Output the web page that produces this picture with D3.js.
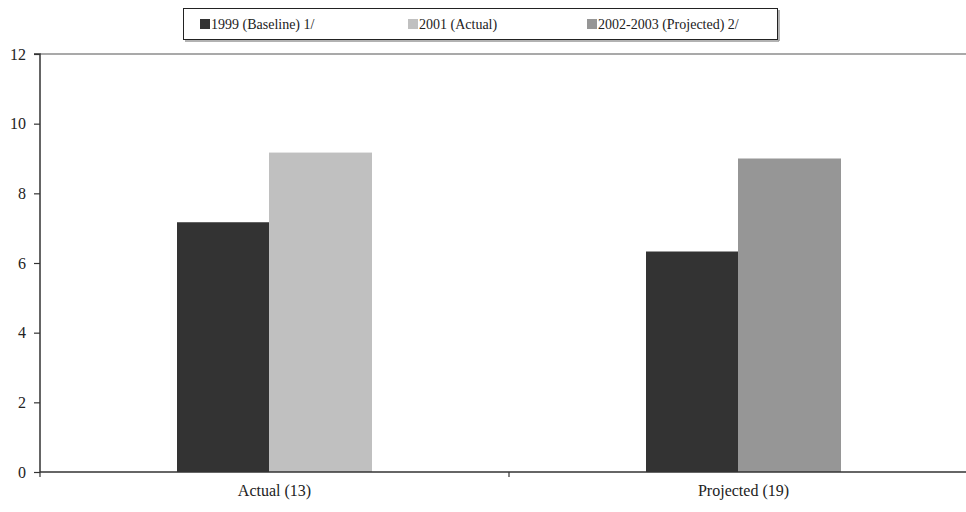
<!DOCTYPE html>
<html>
<head>
<meta charset="utf-8">
<script src="https://cdn.jsdelivr.net/npm/d3@7"></script>
<style>
  html, body { margin: 0; padding: 0; background: #fff; }
  svg { display: block; }
  svg text { font-family: "Liberation Serif", "Times New Roman", Times, serif; }
</style>
</head>
<body>
<svg id="chart" width="966" height="512"></svg>
<script>
// Categories and series
const categories = ["Actual (13)", "Projected (19)"];
const seriesNames = ["1999 (Baseline) 1/", "2001 (Actual)", "2002-2003 (Projected) 2/"];
const seriesColors = ["#333333", "#c0c0c0", "#969696"];
// Values per category: baseline bar, then the follow-up bar (series differs by group)
const baselineValues = [7.17, 6.33];
const followValues = [9.17, 9.0];
const followSeries = [1, 2];
const yTicks = [0, 2, 4, 6, 8, 10, 12];

const FONT = "'Liberation Serif', 'Times New Roman', Times, serif";
const svg = d3.select("#chart");
const margin = { left: 40, top: 54, bottom: 472, right: 978 };

const y = d3.scaleLinear().domain([0, 12]).range([margin.bottom, margin.top]);
const x = d3.scaleBand().domain(categories).range([margin.left, margin.right]);

// Bars within each category: slot offsets and widths inside the group
const groupWidth = 195;
const slotOffset = [0, 92];
const slotWidth = [92, 103];
const bars = [];
categories.forEach((c, i) => {
  bars.push({ cat: c, slot: 0, value: baselineValues[i], series: 0 });
  bars.push({ cat: c, slot: 1, value: followValues[i], series: followSeries[i] });
});

// Top boundary of plot
svg.append("line")
  .attr("x1", margin.left).attr("x2", 966)
  .attr("y1", y(12)).attr("y2", y(12))
  .attr("stroke", "#8c8c8c").attr("stroke-width", 1.5);

svg.selectAll("rect.bar").data(bars).enter().append("rect")
  .attr("class", "bar")
  .attr("x", d => x(d.cat) + (x.bandwidth() - groupWidth) / 2 + slotOffset[d.slot])
  .attr("width", d => slotWidth[d.slot])
  .attr("y", d => y(d.value))
  .attr("height", d => y(0) - y(d.value))
  .attr("fill", d => seriesColors[d.series]);

// Y axis
const yAxis = d3.axisLeft(y).tickValues(yTicks).tickSize(6).tickPadding(8);
const gy = svg.append("g").attr("transform", `translate(${margin.left},0)`).call(yAxis)
  .attr("font-family", FONT);
gy.select(".domain").attr("stroke", "#333").attr("stroke-width", 1.5).attr("d", `M-6,${y(12)}H0V${y(0)}`);
gy.selectAll(".tick line").attr("stroke", "#333").attr("stroke-width", 1.2);
gy.selectAll(".tick text").attr("font-size", 16).attr("font-family", FONT).attr("fill", "#222");

// X axis
const gx = svg.append("g").attr("transform", `translate(0,${y(0)})`);
gx.append("line").attr("x1", margin.left).attr("x2", 966).attr("y1", 0).attr("y2", 0)
  .attr("stroke", "#333").attr("stroke-width", 1.5);
const boundaries = [margin.left, x(categories[1])];
gx.selectAll("line.cat-tick").data(boundaries).enter().append("line")
  .attr("class", "cat-tick")
  .attr("x1", d => d).attr("x2", d => d).attr("y1", 0).attr("y2", 5)
  .attr("stroke", "#333").attr("stroke-width", 1.2);
gx.selectAll("text").data(categories).enter().append("text")
  .attr("x", d => x(d) + x.bandwidth() / 2)
  .attr("y", 24)
  .attr("text-anchor", "middle")
  .attr("font-family", FONT)
  .attr("font-size", 16)
  .attr("fill", "#222")
  .text(d => d);

// Legend
const legend = svg.append("g");
legend.append("rect").attr("x", 183.5).attr("y", 8.5).attr("width", 594).attr("height", 31)
  .attr("fill", "#fff").attr("stroke", "#222").attr("stroke-width", 1);
legend.append("line").attr("x1", 185).attr("x2", 779).attr("y1", 41).attr("y2", 41)
  .attr("stroke", "#999").attr("stroke-width", 1.5);
legend.append("line").attr("x1", 779).attr("x2", 779).attr("y1", 10).attr("y2", 41)
  .attr("stroke", "#999").attr("stroke-width", 1.5);
const legendX = [200, 408, 587];
seriesNames.forEach((name, i) => {
  const g = legend.append("g").attr("transform", `translate(${legendX[i]},0)`);
  g.append("rect").attr("x", 0).attr("y", 19).attr("width", 10).attr("height", 10).attr("fill", seriesColors[i]);
  g.append("text").attr("x", 11).attr("y", 29).attr("font-family", FONT).attr("font-size", 14)
    .attr("fill", "#222").text(name);
});
</script>
</body>
</html>
